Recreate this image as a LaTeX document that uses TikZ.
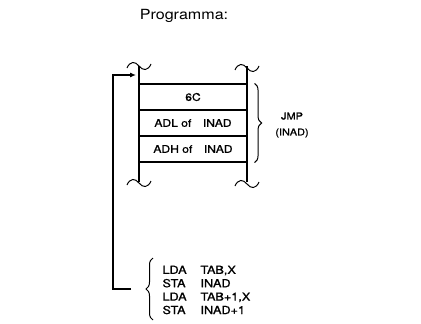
\documentclass[tikz,border=0pt]{standalone}
\usepackage{fontspec}
\setmainfont{TeX Gyre Heros}[FakeStretch=1.15]
\newfontface\labelfont{TeX Gyre Heros}[FakeStretch=1.15, FakeBold=1.2]
\usetikzlibrary{arrows.meta,positioning,calc,decorations.pathreplacing}
\tikzset{
  cell/.style  = {draw, line width=1.1pt, rectangle, minimum width=108pt,
                  minimum height=26pt, inner sep=0pt,
                  font=\labelfont\fontsize{10.5}{12}\selectfont},
  wire/.style  = {line width=1.1pt},
  sig/.style   = {-{Latex[length=6pt,width=5pt]}, line width=1.1pt},
  curly/.style = {decorate, line width=1pt,
                  decoration={brace, amplitude=7pt}},
  wavy/.pic    = {\draw[line width=1pt] (-12,2) .. controls (-9,-5) and (-4,-5) .. (0,0)
                  .. controls (4,5) and (9,5) .. (12,-2);},
}
\begin{document}
\begin{tikzpicture}[x=1pt,y=-1pt]
\useasboundingbox (0,0) rectangle (421,324);
\node[font=\fontsize{14}{16}\selectfont] (title) at (184,16) {Programma:};
% memory cells
\node[cell] (op)  at (193,97)  {6C};
\node[cell] (adl) at (193,123) {ADL of\hspace{1.1em}INAD};
\node[cell] (adh) at (193,149) {ADH of\hspace{1.1em}INAD};
% rails with cut marks
\draw[wire] (139,66) -- (139,182);
\draw[wire] (247,66) -- (247,182);
\pic at (139,66) {wavy};
\pic at (247,68) {wavy};
\pic at (139,183) {wavy};
\pic at (247,184) {wavy};
% brace and label
\draw[curly] (op.north east) ++(7,0) coordinate (b1) -- ($(adh.south east)+(7,0)$);
\node[align=center, font=\labelfont\fontsize{9.5}{16}\selectfont] (jmp) at (292,125) {JMP\\(INAD)};
% code
\node[anchor=west, align=left, font=\labelfont\fontsize{11}{13.4}\selectfont] (code) at (159,290)
  {\makebox[38pt][l]{LDA}TAB,X\\
   \makebox[38pt][l]{STA}INAD\\
   \makebox[38pt][l]{LDA}TAB+1,X\\
   \makebox[38pt][l]{STA}INAD+1};
\draw[curly] (153,320) -- (153,258);
\coordinate (ret) at (131,289);
\coordinate (entry) at (136,75);
\draw[sig] (ret) -- ++(-18,0) |- (entry);
\end{tikzpicture}
\end{document}
